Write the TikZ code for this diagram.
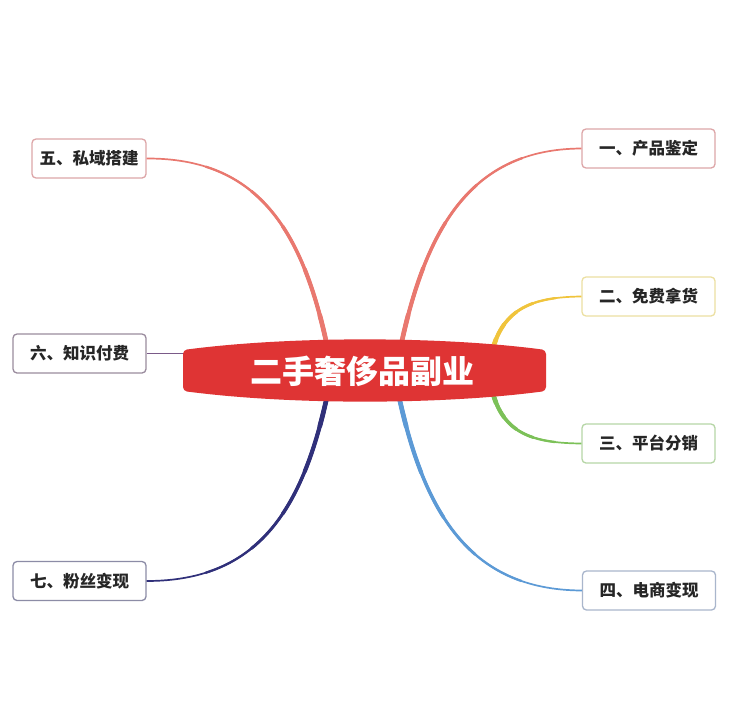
\documentclass[tikz,border=0pt]{standalone}
\usepackage{fontspec}
\newfontfamily\cjk{Noto Sans CJK SC}
\usetikzlibrary{calc}
\definecolor{brred}{HTML}{E9786F}
\definecolor{bryellow}{HTML}{F0C43C}
\definecolor{brgreen}{HTML}{7CC158}
\definecolor{brblue}{HTML}{5C9AD6}
\definecolor{brnavy}{HTML}{30307A}
\definecolor{brpurple}{HTML}{7A5A88}
\definecolor{bdred}{HTML}{DDA6A8}
\definecolor{bdyellow}{HTML}{ECE0A2}
\definecolor{bdgreen}{HTML}{B6D6A6}
\definecolor{bdblue}{HTML}{A9B6CC}
\definecolor{bdpurple}{HTML}{9A8C9E}
\definecolor{bdnavy}{HTML}{8C8CA6}
\definecolor{mainred}{HTML}{DF3434}
% partial cubic from t=0 to t=#6 with width #7
\newcommand\partcurve[7]{%
  \draw[#1, line width=#7, line cap=round]
    (#2) .. controls ($(#2)!#6!(#3)$) and ($($(#2)!#6!(#3)$)!#6!($(#3)!#6!(#4)$)$) ..
    ($($($(#2)!#6!(#3)$)!#6!($(#3)!#6!(#4)$)$)!#6!($($(#3)!#6!(#4)$)!#6!($(#4)!#6!(#5)$)$)$);}
\newcommand\taperbranch[5]{%
  \draw[#1, line width=1.7pt] (#2) .. controls (#3) and (#4) .. (#5);
  \partcurve{#1}{#2}{#3}{#4}{#5}{0.8}{2.3pt}
  \partcurve{#1}{#2}{#3}{#4}{#5}{0.6}{2.9pt}
  \partcurve{#1}{#2}{#3}{#4}{#5}{0.42}{3.5pt}
  \partcurve{#1}{#2}{#3}{#4}{#5}{0.25}{4.1pt}
  \partcurve{#1}{#2}{#3}{#4}{#5}{0.1}{4.7pt}}
\tikzset{
  leaf/.style={draw=#1, line width=1.3pt, rounded corners=4pt, fill=white,
    minimum width=133pt, minimum height=39pt, inner sep=0pt,
    font=\cjk\bfseries\fontsize{16.5}{20}\selectfont, text=black!85},
  maintext/.style={font=\cjk\bfseries\fontsize{32}{38}\selectfont, text=white, inner sep=0pt}
}
\begin{document}
\begin{tikzpicture}[x=1pt,y=-1pt]
\useasboundingbox[fill=white] (0,0) rectangle (730,712);
% leaf boxes
\node[leaf=bdred] (n1) at (648.5,148.5) {一、产品鉴定};
\node[leaf=bdyellow] (n2) at (648.5,296.5) {二、免费拿货};
\node[leaf=bdgreen] (n3) at (648.5,443.5) {三、平台分销};
\node[leaf=bdblue] (n4) at (649,590.5) {四、电商变现};
\node[leaf=bdred, minimum width=114pt] (n5) at (89,158.5) {五、私域搭建};
\node[leaf=bdpurple] (n6) at (79.5,353.5) {六、知识付费};
\node[leaf=bdnavy] (n7) at (79.5,581) {七、粉丝变现};
% start coordinates
\coordinate (s1) at (400,350);
\coordinate (s2) at (492,352);
\coordinate (s3) at (492,390);
\coordinate (s4) at (398,392);
\coordinate (s5) at (328,350);
\coordinate (s7) at (328,392);
\coordinate (c1a) at (425,230); \coordinate (c1b) at (470,149);
\coordinate (c2a) at (503,307); \coordinate (c2b) at (535,297);
\coordinate (c3a) at (503,435); \coordinate (c3b) at (535,443);
\coordinate (c4a) at (423,510); \coordinate (c4b) at (468,590);
\coordinate (c5a) at (303,230); \coordinate (c5b) at (258,158);
\coordinate (c7a) at (303,510); \coordinate (c7b) at (258,581);
\coordinate (e1) at (n1.west); \coordinate (e2) at (n2.west);
\coordinate (e3) at (n3.west); \coordinate (e4) at (n4.west);
\coordinate (e5) at (n5.east); \coordinate (e7) at (n7.east);
% branches
\taperbranch{brred}{s1}{c1a}{c1b}{e1}
\taperbranch{bryellow}{s2}{c2a}{c2b}{e2}
\taperbranch{brgreen}{s3}{c3a}{c3b}{e3}
\taperbranch{brblue}{s4}{c4a}{c4b}{e4}
\taperbranch{brred}{s5}{c5a}{c5b}{e5}
\taperbranch{brnavy}{s7}{c7a}{c7b}{e7}
\coordinate (s6) at (200,353.5);
\draw[brpurple, line width=1.5pt] (n6.east) -- (s6);
% central shape
\fill[mainred, rounded corners=4pt] (183,350) .. controls (290,336) and (440,336) .. (546,350)
  -- (546,391) .. controls (440,405) and (290,405) .. (183,391) -- cycle;
\node[maintext] (c) at (362,371) {二手奢侈品副业};
\end{tikzpicture}
\end{document}
